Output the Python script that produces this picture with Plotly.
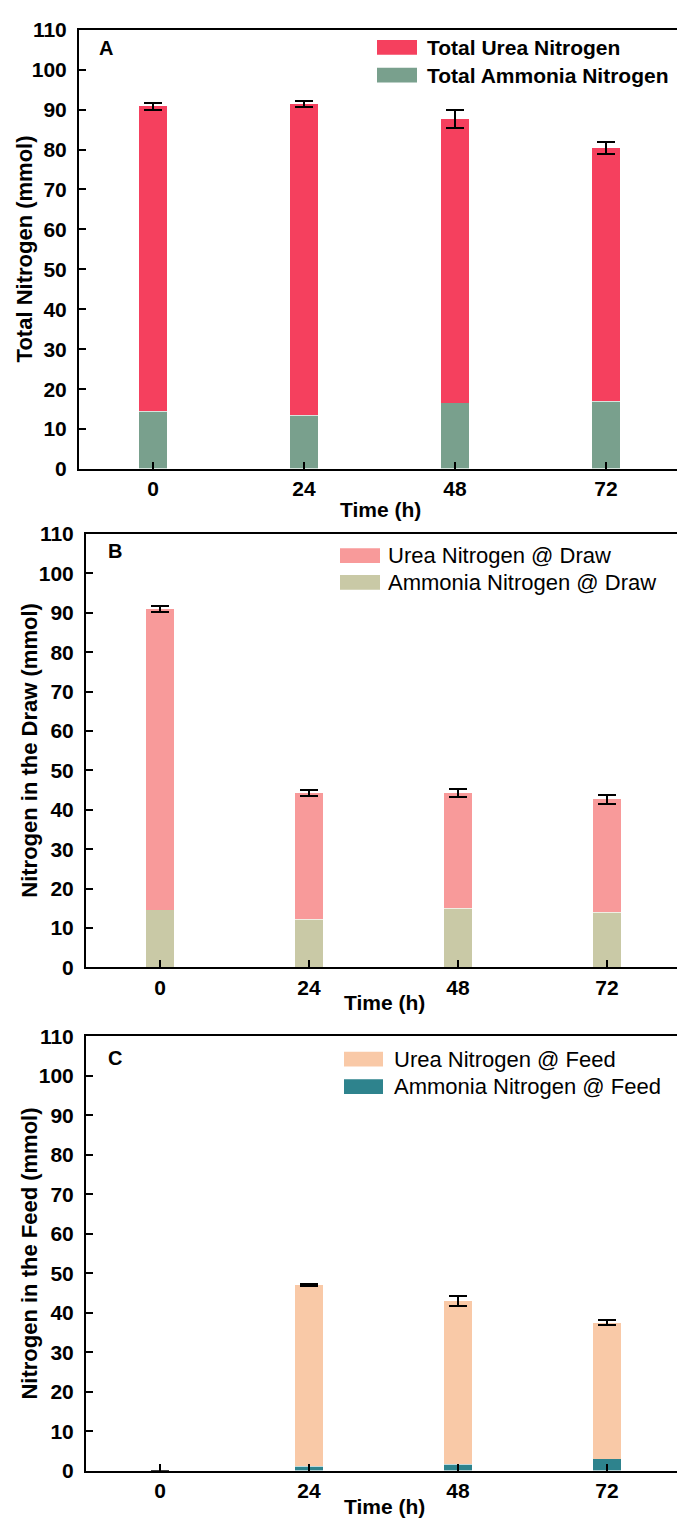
import plotly.graph_objects as go
from plotly.subplots import make_subplots

W, H = 677, 1530

# Sampling times (h)
times = [0, 24, 48, 72]
tick_labels = ["0", "24", "48", "72"]

# Panel A: total nitrogen (mmol)
a_ammonia = [14.5, 13.5, 16.6, 17.0]
a_urea = [76.3, 77.9, 71.1, 63.5]
a_err = [0.8, 0.8, 2.2, 1.5]

# Panel B: nitrogen in the draw (mmol)
b_ammonia = [14.6, 12.3, 15.0, 14.0]
b_urea = [76.4, 32.0, 29.3, 28.7]
b_err = [0.75, 0.7, 1.1, 1.1]

# Panel C: nitrogen in the feed (mmol); nothing measured in the feed at 0 h
c_ammonia = [0.0, 1.2, 1.7, 3.0]
c_urea = [0.0, 45.8, 41.3, 34.5]
c_err = [None, 0.3, 1.3, 0.6]

panels = [
    dict(label="A", ytitle="Total Nitrogen (mmol)",
         urea=a_urea, ammonia=a_ammonia, err=a_err,
         urea_name="Total Urea Nitrogen", ammonia_name="Total Ammonia Nitrogen",
         urea_color="#F5405E", ammonia_color="#79A08D",
         top=18, bottom=464, left=79, x0px=153, x72px=606,
         leg_sw=(377, 417), leg_rows=(36, 64), leg_text=425, leg_bold=True,
         lab=(106, 37), ytitle_x=24, xtitle_y=505),
    dict(label="B", ytitle="Nitrogen in the Draw (mmol)",
         urea=b_urea, ammonia=b_ammonia, err=b_err,
         urea_name="Urea Nitrogen @ Draw", ammonia_name="Ammonia Nitrogen @ Draw",
         urea_color="#F89A9A", ammonia_color="#C9C9A6",
         top=530, bottom=970, left=86, x0px=160, x72px=607,
         leg_sw=(340, 380), leg_rows=(552, 579), leg_text=386, leg_bold=False,
         lab=(115, 547), ytitle_x=30, xtitle_y=1006),
    dict(label="C", ytitle="Nitrogen in the Feed (mmol)",
         urea=c_urea, ammonia=c_ammonia, err=c_err,
         urea_name="Urea Nitrogen @ Feed", ammonia_name="Ammonia Nitrogen @ Feed",
         urea_color="#F9C9A7", ammonia_color="#2E838D",
         top=1040, bottom=1481, left=86, x0px=160, x72px=607,
         leg_sw=(344, 383), leg_rows=(1063, 1091), leg_text=392, leg_bold=False,
         lab=(115, 1062), ytitle_x=30, xtitle_y=1517),
]

FONT = "Liberation Sans, Arial, sans-serif"


def px(x):
    return x / W


def py(y):
    return 1 - y / H


fig = make_subplots(rows=3, cols=1)
shapes = []
annotations = []

for i, p in enumerate(panels, start=1):
    fig.add_trace(go.Bar(
        x=times, y=p["ammonia"], width=4.6, name=p["ammonia_name"],
        marker=dict(color=p["ammonia_color"],
                    line=dict(color="rgba(255,255,255,0.7)", width=1.2)),
        showlegend=False), row=i, col=1)
    fig.add_trace(go.Bar(
        x=times, y=p["urea"], width=4.6, name=p["urea_name"],
        marker=dict(color=p["urea_color"], line=dict(width=0)),
        error_y=dict(type="data", array=p["err"], visible=True,
                     color="black", thickness=2, width=9),
        showlegend=False), row=i, col=1)

    # axis placement
    ppx = (p["x72px"] - p["x0px"]) / 72.0
    xmin = -(p["x0px"] - p["left"]) / ppx
    xmax = (W - p["x0px"]) / ppx
    xa = "xaxis" if i == 1 else f"xaxis{i}"
    ya = "yaxis" if i == 1 else f"yaxis{i}"
    fig.layout[xa].update(
        domain=[px(p["left"]), 1.0], range=[xmin, xmax],
        tickvals=times, ticktext=tick_labels,
        showline=True, linecolor="black", linewidth=2, mirror=True,
        ticks="inside", ticklen=7, tickwidth=2, tickcolor="black",
        showgrid=False, zeroline=False, ticklabelstandoff=0,
        tickfont=dict(family=FONT, size=21, color="black", weight="bold"))
    fig.layout[ya].update(
        domain=[py(p["bottom"]), py(p["top"])], range=[0, 110],
        tickmode="linear", tick0=0, dtick=10,
        showline=True, linecolor="black", linewidth=2, mirror=False,
        ticks="inside", ticklen=7, tickwidth=2, tickcolor="black",
        showgrid=False, zeroline=False, ticklabelstandoff=6,
        tickfont=dict(family=FONT, size=21, color="black", weight="bold"))

    # legend keys
    x0, x1 = p["leg_sw"]
    for yrow, color, name in [(p["leg_rows"][0], p["urea_color"], p["urea_name"]),
                              (p["leg_rows"][1], p["ammonia_color"], p["ammonia_name"])]:
        shapes.append(dict(type="rect", xref="paper", yref="paper",
                           x0=px(x0), x1=px(x1), y0=py(yrow + 7.5), y1=py(yrow - 7.5),
                           fillcolor=color, line=dict(width=0)))
        annotations.append(dict(
            xref="paper", yref="paper", x=px(p["leg_text"]), y=py(yrow),
            xanchor="left", yanchor="middle", showarrow=False, text=name,
            font=dict(family=FONT, size=21 if p["leg_bold"] else 22, color="black",
                      weight="bold" if p["leg_bold"] else "normal")))

    # panel letter
    annotations.append(dict(
        xref="paper", yref="paper", x=px(p["lab"][0]), y=py(p["lab"][1]),
        xanchor="center", yanchor="middle", showarrow=False, text=p["label"],
        font=dict(family=FONT, size=20, color="black", weight="bold")))
    # y axis title
    annotations.append(dict(
        xref="paper", yref="paper", x=px(p["ytitle_x"]),
        y=py((p["top"] + p["bottom"]) / 2),
        xanchor="center", yanchor="middle", showarrow=False, textangle=-90,
        text=p["ytitle"],
        font=dict(family=FONT, size=22, color="black", weight="bold")))
    # x axis title
    annotations.append(dict(
        xref="paper", yref="paper", x=px((p["left"] + W + 6) / 2), y=py(p["xtitle_y"]),
        xanchor="center", yanchor="middle", showarrow=False, text="Time (h)",
        font=dict(family=FONT, size=21, color="black", weight="bold")))

fig.update_layout(
    width=W, height=H, barmode="stack", showlegend=False,
    margin=dict(l=0, r=0, t=0, b=0),
    paper_bgcolor="white", plot_bgcolor="white",
    shapes=shapes, annotations=annotations,
)

fig.write_html("out.html")
